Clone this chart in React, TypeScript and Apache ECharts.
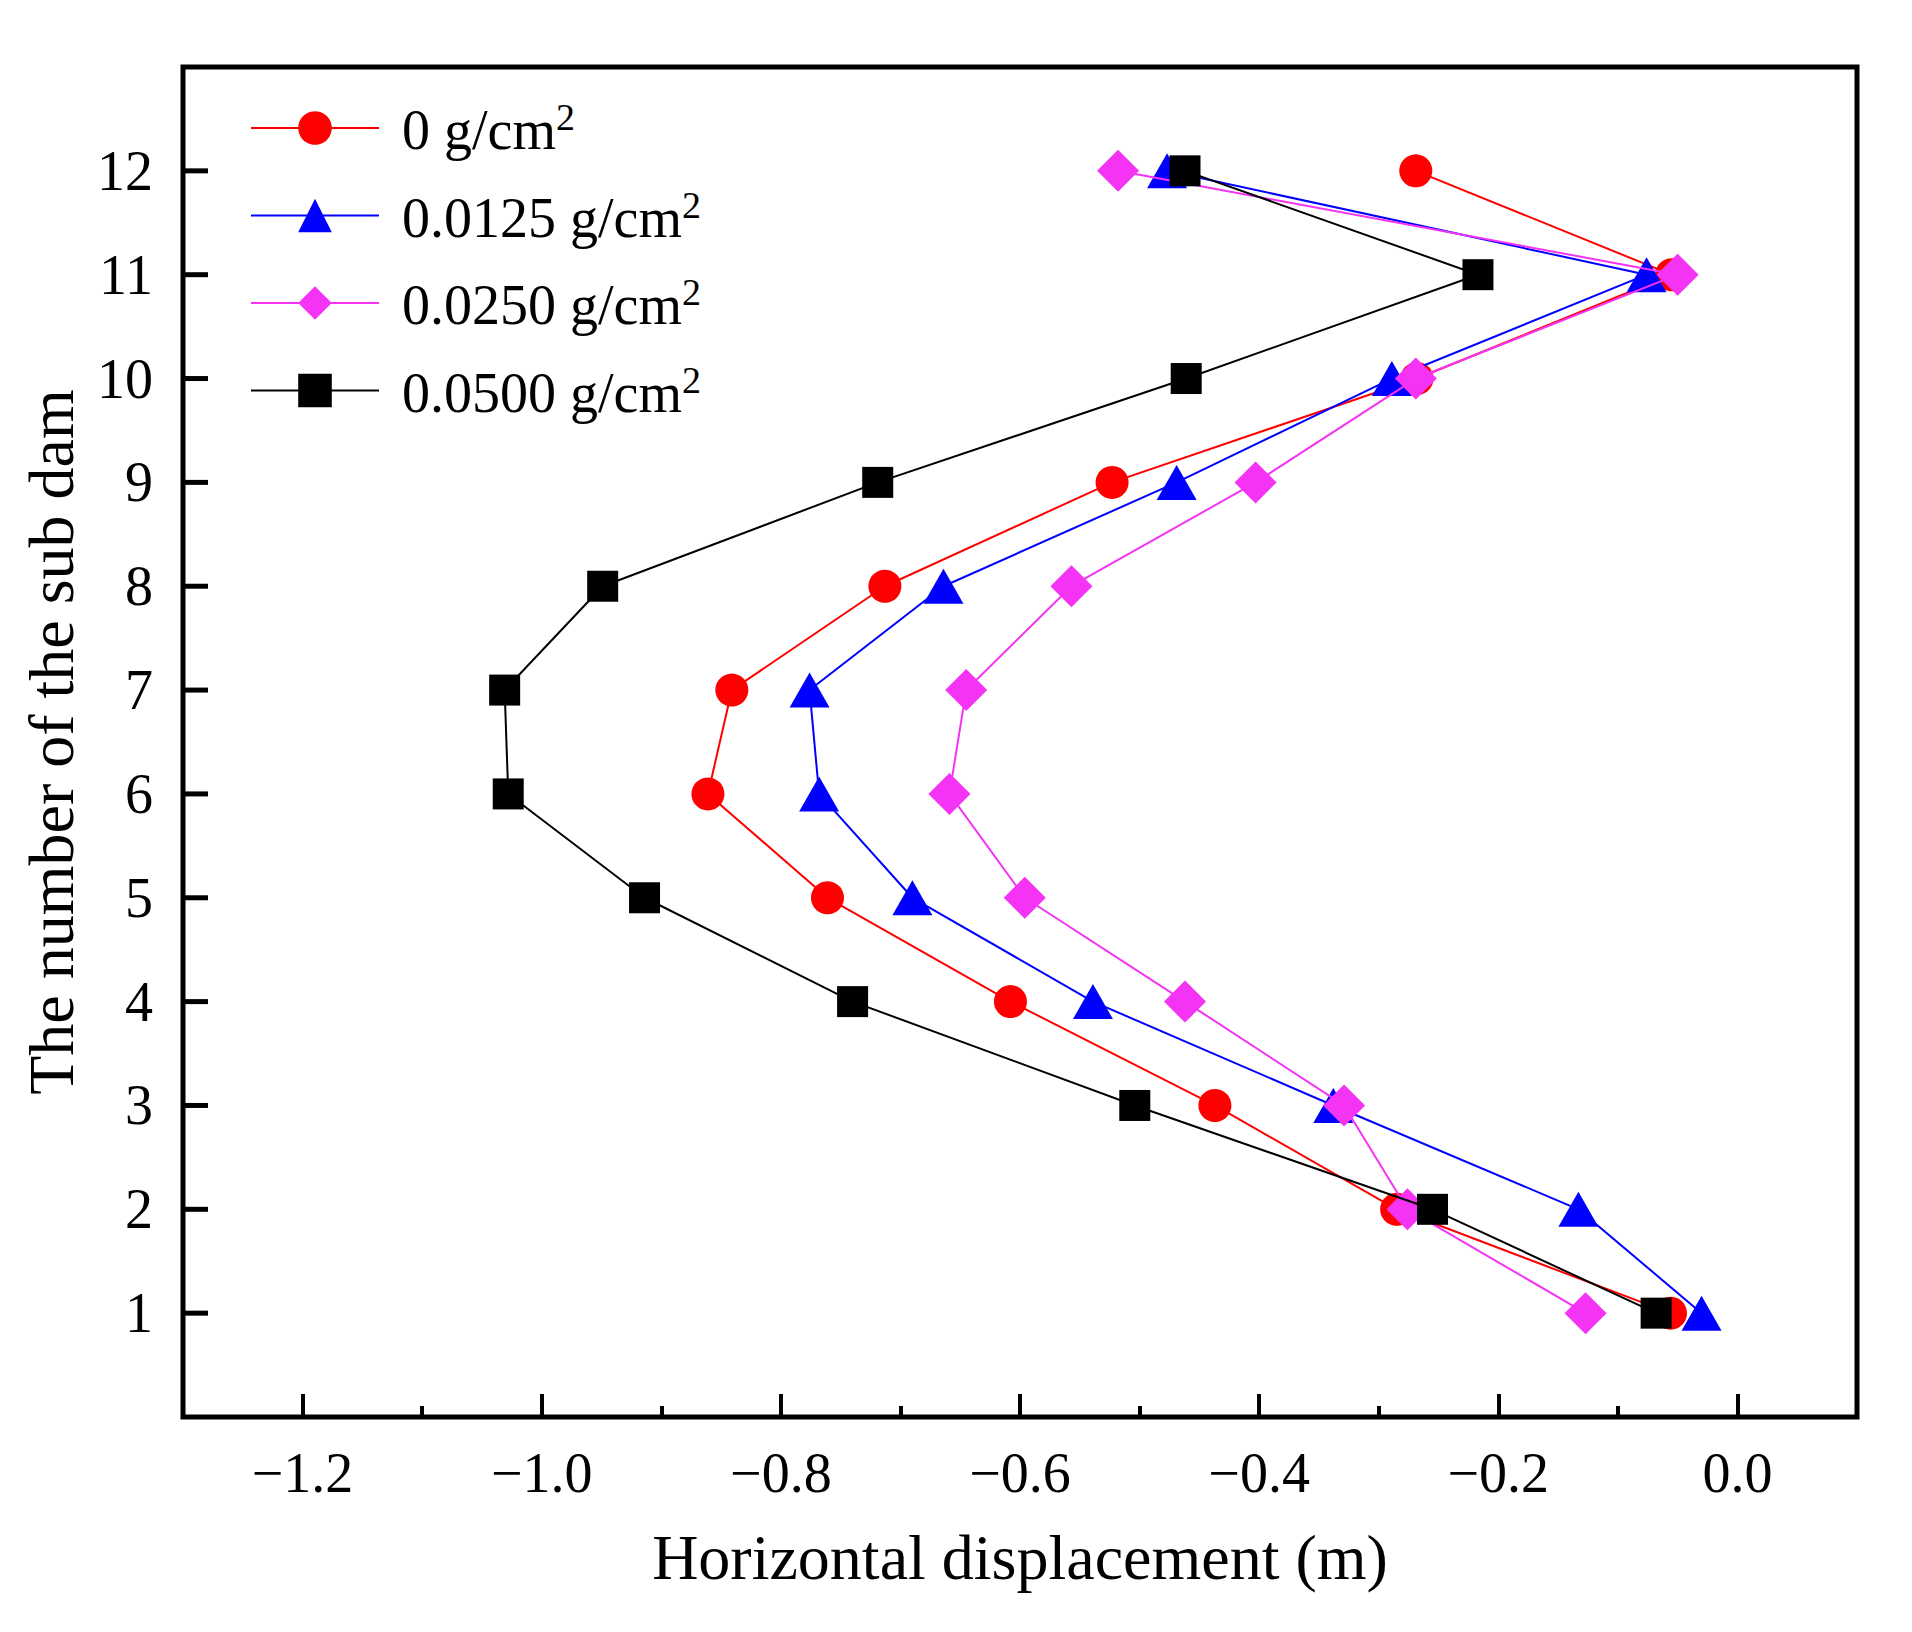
import React, { useEffect, useRef } from "react";
import * as echarts from "echarts";

const subDams = [1, 2, 3, 4, 5, 6, 7, 8, 9, 10, 11, 12];
const seriesNames = ["0 g/cm2", "0.0125 g/cm2", "0.0250 g/cm2", "0.0500 g/cm2"];
const disp0 = [-0.056, -0.285, -0.437, -0.608, -0.761, -0.861, -0.841, -0.713, -0.523, -0.268, -0.055, -0.269];
const disp0125 = [-0.03, -0.133, -0.338, -0.539, -0.69, -0.768, -0.776, -0.664, -0.469, -0.289, -0.076, -0.477];
const disp0250 = [-0.127, -0.276, -0.329, -0.462, -0.596, -0.659, -0.645, -0.557, -0.403, -0.269, -0.05, -0.518];
const disp0500 = [-0.068, -0.255, -0.504, -0.74, -0.914, -1.028, -1.031, -0.949, -0.719, -0.461, -0.217, -0.462];
const xMin = -1.3;
const xMax = 0.1;
const xMajorTicks = [-1.2, -1.0, -0.8, -0.6, -0.4, -0.2, 0.0];
const xMinorTicks = [-1.1, -0.9, -0.7, -0.5, -0.3, -0.1];
const yTicks = subDams;

const colors = ["#FF0000", "#0000FF", "#F433F4", "#000000"];
const symbols = ["circle", "triangle", "diamond", "rect"];
const symbolSizes: any[] = [33, [40, 35], [42, 42], 31];
const allData = [disp0, disp0125, disp0250, disp0500];

const FONT = "'Liberation Serif', 'Times New Roman', serif";

export default function App() {
  const ref = useRef<HTMLDivElement>(null);
  useEffect(() => {
    if (!ref.current) return;
    const chart = echarts.init(ref.current, null, { renderer: "svg" });
    const series: any[] = allData.map((arr, i) => ({
      name: seriesNames[i],
      type: "line",
      xAxisIndex: 0,
      yAxisIndex: 0,
      data: arr.map((v, j) => [v, subDams[j]]),
      symbol: symbols[i],
      symbolSize: symbolSizes[i],
      itemStyle: { color: colors[i] },
      lineStyle: { color: colors[i], width: 2 },
      z: 2 + i,
    }));
    // y-axis inside ticks drawn through the axis scales
    series.push({
      name: "yTicks",
      type: "custom",
      xAxisIndex: 0,
      yAxisIndex: 0,
      silent: true,
      clip: false,
      z: 10,
      data: yTicks.map((v) => [xMin, v]),
      renderItem: (params: any, api: any) => {
        const p = api.coord([api.value(0), api.value(1)]);
        return {
          type: "line",
          shape: { x1: p[0], y1: p[1], x2: p[0] + 25, y2: p[1] },
          style: { stroke: "#000", lineWidth: 5 },
        };
      },
    });
    const option: any = {
      animation: false,
      backgroundColor: "#ffffff",
      textStyle: { fontFamily: FONT },
      grid: {
        left: 183,
        right: 55,
        top: 67,
        bottom: 215,
        show: true,
        borderColor: "#000",
        borderWidth: 5,
        backgroundColor: "transparent",
      },
      legend: {
        left: 245,
        top: 93,
        orient: "vertical",
        itemWidth: 128,
        itemHeight: 42,
        itemGap: 27.5,
        data: seriesNames,
        formatter: (name: string) => {
          const base = name.slice(0, -1);
          return `{t|${base}}{s|2}`;
        },
        textStyle: {
          fontFamily: FONT,
          color: "#000",
          rich: {
            t: {
              fontFamily: FONT,
              fontSize: 56,
              lineHeight: 60,
              color: "#000",
              padding: [0, 0, 0, 18],
              verticalAlign: "bottom",
            },
            s: {
              fontFamily: FONT,
              fontSize: 38,
              lineHeight: 50,
              color: "#000",
              verticalAlign: "top",
            },
          },
        },
      },
      xAxis: [
        {
          type: "value",
          min: xMin,
          max: xMax,
          name: "Horizontal displacement (m)",
          nameLocation: "middle",
          nameGap: 108,
          nameTextStyle: { fontFamily: FONT, fontSize: 64, color: "#000" },
          axisLine: { show: false, onZero: false },
          splitLine: { show: false },
          axisTick: {
            show: true,
            inside: true,
            length: 23,
            lineStyle: { color: "#000", width: 4 },
            customValues: xMajorTicks,
          },
          axisLabel: {
            show: true,
            fontFamily: FONT,
            fontSize: 56,
            color: "#000",
            margin: 28,
            customValues: xMajorTicks,
            formatter: (v: number) => (v < 0 ? "\u2212" + Math.abs(v).toFixed(1) : v.toFixed(1)),
          },
        },
        {
          type: "value",
          min: xMin,
          max: xMax,
          position: "bottom",
          axisLine: { show: false, onZero: false },
          splitLine: { show: false },
          axisTick: {
            show: true,
            inside: true,
            length: 11,
            lineStyle: { color: "#000", width: 4 },
            customValues: xMinorTicks,
          },
          axisLabel: { show: false },
        },
      ],
      yAxis: [
        {
          type: "value",
          min: 0,
          max: 13,
          interval: 1,
          name: "The number of the sub dam",
          nameLocation: "middle",
          nameRotate: 90,
          nameGap: 100,
          nameTextStyle: { fontFamily: FONT, fontSize: 64, color: "#000" },
          axisLine: { show: false, onZero: false },
          splitLine: { show: false },
          axisTick: { show: false },
          axisLabel: {
            show: true,
            fontFamily: FONT,
            fontSize: 56,
            color: "#000",
            margin: 30,
            customValues: yTicks,
          },
        },
      ],
      series,
    };
    chart.setOption(option);
    return () => chart.dispose();
  }, []);
  return (
    <div
      ref={ref}
      style={{ position: "absolute", left: 0, top: 0, width: 1912, height: 1632, background: "#fff" }}
    />
  );
}
